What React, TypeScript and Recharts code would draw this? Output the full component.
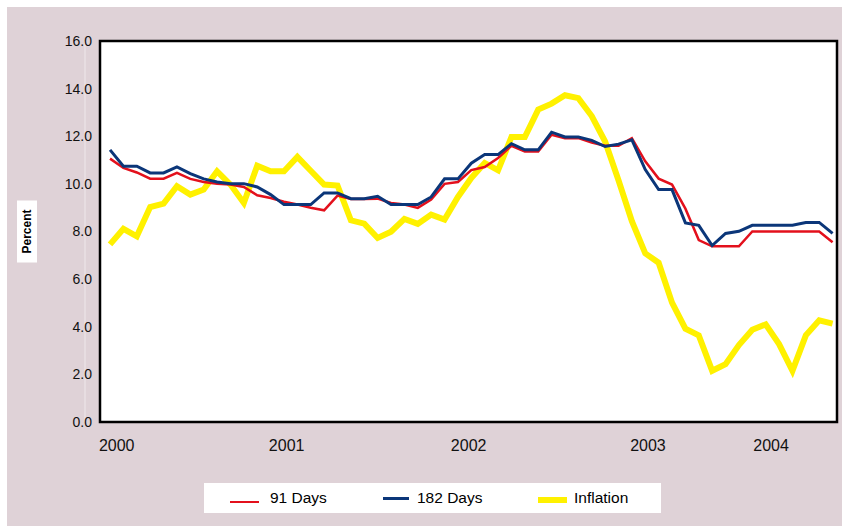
import React from 'react';
import { LineChart, Line, XAxis, YAxis, CartesianGrid, ReferenceArea } from 'recharts';

const rate91 = [
  11.06, 10.67, 10.48, 10.22, 10.22, 10.46, 10.21, 10.08, 10.01, 9.97,
  9.87, 9.52, 9.41, 9.25, 9.13, 9.0, 8.89, 9.51, 9.37, 9.37,
  9.38, 9.2, 9.13, 8.99, 9.34, 10.0, 10.08, 10.58, 10.71, 11.09,
  11.6, 11.36, 11.36, 12.06, 11.92, 11.92, 11.74, 11.6, 11.6, 11.92,
  10.95, 10.22, 9.97, 8.96, 7.64, 7.38, 7.38, 7.38, 8.0, 8.0,
  8.0, 8.0, 8.0, 8.0, 7.55,
];

const rate182 = [
  11.43, 10.74, 10.74, 10.46, 10.46, 10.71, 10.43, 10.21, 10.08, 10.01,
  10.01, 9.87, 9.55, 9.13, 9.13, 9.13, 9.62, 9.62, 9.38, 9.38,
  9.48, 9.13, 9.13, 9.13, 9.45, 10.21, 10.21, 10.87, 11.23, 11.23,
  11.69, 11.43, 11.43, 12.17, 11.97, 11.97, 11.83, 11.57, 11.67, 11.85,
  10.6, 9.76, 9.76, 8.36, 8.26, 7.41, 7.92, 8.01, 8.26, 8.26,
  8.26, 8.26, 8.38, 8.38, 7.92,
];

const inflation = [
  7.46, 8.11, 7.8, 9.03, 9.17, 9.9, 9.55, 9.76, 10.53, 9.97,
  9.2, 10.76, 10.53, 10.53, 11.13, 10.55, 9.97, 9.93, 8.47, 8.33,
  7.73, 7.99, 8.53, 8.32, 8.71, 8.5, 9.45, 10.25, 10.88, 10.57,
  11.97, 11.97, 13.12, 13.37, 13.72, 13.6, 12.85, 11.78, 10.15, 8.43,
  7.08, 6.69, 5.01, 3.92, 3.64, 2.15, 2.43, 3.23, 3.87, 4.1,
  3.27, 2.15, 3.64, 4.27, 4.13,
];

const yearTicks = [0.5, 13.2, 26.8, 40.2, 49.4];
const yearLabels = ['2000', '2001', '2002', '2003', '2004'];
const yTicks = [0, 2, 4, 6, 8, 10, 12, 14, 16];
const yLabel = 'Percent';

const series = [
  { key: 'infl', name: 'Inflation', color: '#FFF100', width: 6 },
  { key: 'r91', name: '91 Days', color: '#E3101C', width: 2.5 },
  { key: 'r182', name: '182 Days', color: '#0B3679', width: 3 },
];

const legendOrder = ['r91', 'r182', 'infl'];

const data = rate91.map((v, i) => ({
  idx: i,
  r91: v,
  r182: rate182[i],
  infl: inflation[i],
}));

const axisFont = "'Liberation Sans Narrow', 'Arial Narrow', 'Liberation Sans', Arial, sans-serif";
const legendFont = "'Liberation Sans', Arial, sans-serif";

const YLabel = (props: any) => {
  const vb = props.viewBox || { x: 0, y: 0, width: 0, height: 0 };
  const cy = vb.y + vb.height / 2;
  const bx = vb.x + 10;
  return (
    <g>
      <line x1={vb.x + 78} x2={vb.x + 78} y1={vb.y} y2={vb.y + vb.height} stroke="#EFE8EB" strokeWidth={1} />
      <rect x={bx} y={cy - 31} width={20} height={62} fill="#fff" />
      <text
        x={bx + 10}
        y={cy}
        transform={`rotate(-90 ${bx + 10} ${cy})`}
        textAnchor="middle"
        dominantBaseline="central"
        fontFamily={legendFont}
        fontWeight="bold"
        fontSize={12}
        fill="#000"
      >
        {yLabel}
      </text>
    </g>
  );
};

const legendPos: Record<string, { line: number; lineW: number; text: number; y: number }> = {
  r91: { line: 26, lineW: 29, text: 66, y: 19 },
  r182: { line: 179, lineW: 26, text: 213, y: 15 },
  infl: { line: 334, lineW: 29, text: 370, y: 17 },
};

export default function App() {
  return (
    <div style={{ height: 500 }}>
      <div
        style={{
          position: 'absolute',
          left: 7,
          top: 7,
          width: 835,
          height: 519,
          background: '#DFD2D7',
          overflow: 'hidden',
        }}
      >
        <LineChart width={835} height={519} data={data} margin={{ top: 34, right: 5, bottom: 64, left: 0 }}>
          <CartesianGrid fill="#fff" horizontal={false} vertical={false} />
          <XAxis
            type="number"
            dataKey="idx"
            domain={[-0.75, 54.33]}
            allowDataOverflow
            ticks={yearTicks}
            interval={0}
            tickFormatter={(v: number) => yearLabels[yearTicks.indexOf(v)]}
            axisLine={false}
            tickLine={false}
            tickMargin={12}
            height={40}
            tick={{ fill: '#111', fontSize: 16, fontFamily: axisFont }}
          />
          <YAxis
            type="number"
            domain={[0, 16]}
            ticks={yTicks}
            interval={0}
            tickFormatter={(v: number) => v.toFixed(1)}
            axisLine={false}
            tickLine={false}
            width={93}
            tick={{ fill: '#111', fontSize: 14, fontFamily: axisFont }}
            label={<YLabel />}
          />
          {series.map((s) => (
            <Line
              key={s.key}
              type="linear"
              dataKey={s.key}
              name={s.name}
              stroke={s.color}
              strokeWidth={s.width}
              dot={false}
              activeDot={false}
              isAnimationActive={false}
            />
          ))}
          <ReferenceArea
            x1={-0.75}
            x2={54.33}
            y1={0}
            y2={16}
            fill="none"
            stroke="#000"
            strokeWidth={2.5}
            ifOverflow="visible"
          />
        </LineChart>
        <div
          style={{
            position: 'absolute',
            left: 197,
            top: 476,
            width: 457,
            height: 30,
            background: '#fff',
            fontFamily: legendFont,
            fontSize: 15.5,
            color: '#000',
          }}
        >
          {legendOrder.map((k) => {
            const s = series.find((x) => x.key === k)!;
            const p = legendPos[k];
            return (
              <React.Fragment key={k}>
                <div
                  style={{
                    position: 'absolute',
                    left: p.line,
                    top: p.y - s.width / 2,
                    width: p.lineW,
                    height: s.width,
                    background: s.color,
                  }}
                />
                <div style={{ position: 'absolute', left: p.text, top: 6, lineHeight: '18px', whiteSpace: 'nowrap' }}>
                  {s.name}
                </div>
              </React.Fragment>
            );
          })}
        </div>
      </div>
    </div>
  );
}
